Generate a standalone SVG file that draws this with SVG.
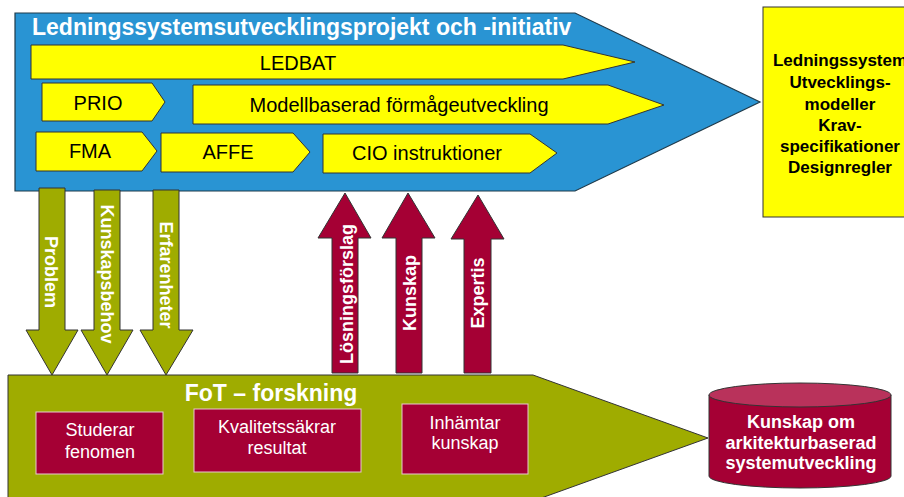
<svg xmlns="http://www.w3.org/2000/svg" width="904" height="497" viewBox="0 0 904 497">
<style>
.blue{fill:#2994d3;stroke:#1f3a4a;stroke-width:1.2}
.yel{fill:#ffff00;stroke:#333;stroke-width:1}
.oliv{fill:#9fac00;stroke:#333;stroke-width:1}
.red{fill:#a50034;stroke:#333;stroke-width:1}
.box{fill:#a50034;stroke:#e8c8d0;stroke-width:1}
.t{font-family:"Liberation Sans",Arial,sans-serif;text-anchor:middle}
.bk{fill:#000;font-size:20px}
.wb{fill:#fff;font-weight:bold}
.w{fill:#fff;font-size:18px}
.rb{fill:#000;font-weight:bold;font-size:17px}
.lab{font-size:18px}
</style>
<rect width="904" height="497" fill="#fff"/>
<g id="ledning">
<path class="blue" d="M15,13 L575,13 L760,102 L575,191 L15,191 Z"/>
<text class="t wb" x="32" y="35" font-size="23" style="text-anchor:start">Ledningssystemsutvecklingsprojekt och -initiativ</text>
</g>
<g id="ledbat">
<path class="yel" d="M31,45 L563,45 L635,62 L563,79 L31,79 Z"/>
<text class="t bk" x="298" y="70">LEDBAT</text>
</g>
<g id="prio">
<path class="yel" d="M42,83 L152,83 L165,102 L152,121 L42,121 Z"/>
<text class="t bk" x="98" y="110">PRIO</text>
</g>
<g id="modell">
<path class="yel" d="M193,85 L608,85 L664,105 L608,124 L193,124 Z"/>
<text class="t bk" x="399" y="112">Modellbaserad förmågeutveckling</text>
</g>
<g id="fma">
<path class="yel" d="M36,132 L142,132 L157,151 L142,171 L36,171 Z"/>
<text class="t bk" x="90" y="158">FMA</text>
</g>
<g id="affe">
<path class="yel" d="M161,133 L293,133 L310,152 L293,172 L161,172 Z"/>
<text class="t bk" x="228" y="159">AFFE</text>
</g>
<g id="cio">
<path class="yel" d="M323,134 L530,134 L557,153 L530,173 L323,173 Z"/>
<text class="t bk" x="427" y="160">CIO instruktioner</text>
</g>
<g id="resultat">
<rect class="yel" x="763" y="7" width="160" height="210"/>
<text class="t rb"><tspan x="840" y="66">Ledningssystem</tspan><tspan x="840" y="88">Utvecklings-</tspan><tspan x="840" y="110">modeller</tspan><tspan x="840" y="131">Krav-</tspan><tspan x="840" y="152">specifikationer</tspan><tspan x="840" y="173">Designregler</tspan></text>
</g>
<g id="fot">
<path class="oliv" d="M8,375 L533,375 L708,438 L533,501 L8,501 Z"/>
<text class="t wb" x="271" y="401" font-size="23">FoT – forskning</text>
</g>
<g id="studerar">
<rect class="box" x="36" y="412" width="127" height="62"/>
<text class="t w"><tspan x="100" y="436">Studerar</tspan><tspan x="100" y="458">fenomen</tspan></text>
</g>
<g id="kvalitet">
<rect class="box" x="194" y="409" width="167" height="63"/>
<text class="t w"><tspan x="277" y="433">Kvalitetssäkrar</tspan><tspan x="277" y="454">resultat</tspan></text>
</g>
<g id="inhamtar">
<rect class="box" x="402" y="404" width="126" height="70"/>
<text class="t w"><tspan x="465" y="429">Inhämtar</tspan><tspan x="465" y="449">kunskap</tspan></text>
</g>
<g id="kunskapsdb">
<path class="red" d="M709,395 L709,476 A91,12 0 0 0 891,476 L891,395"/>
<ellipse cx="800" cy="395" rx="91" ry="12" fill="#b9325b" stroke="#333" stroke-width="1"/>
<text class="t wb" font-size="18"><tspan x="801" y="428">Kunskap om</tspan><tspan x="801" y="449">arkitekturbaserad</tspan><tspan x="801" y="469">systemutveckling</tspan></text>
</g>
<g id="connectors">
<g id="down-arrows">
<path class="oliv" d="M39,188 L65,188 L65,330 L78,330 L52,375 L26,330 L39,330 Z"/>
<path class="oliv" d="M94,190 L120,190 L120,330 L133,330 L107,375 L81,330 L94,330 Z"/>
<path class="oliv" d="M153,190 L179,190 L179,330 L193,330 L166,375 L140,330 L153,330 Z"/>
<text class="t wb lab" transform="translate(45,272) rotate(90)">Problem</text>
<text class="t wb lab" transform="translate(101,274) rotate(90)">Kunskapsbehov</text>
<text class="t wb lab" transform="translate(160,275) rotate(90)">Erfarenheter</text>
</g>
<g id="up-arrows">
<path class="red" d="M332,373 L358,373 L358,238 L371,238 L345,193 L318,238 L332,238 Z"/>
<path class="red" d="M396,373 L422,373 L422,238 L435,238 L408,193 L382,238 L396,238 Z"/>
<path class="red" d="M464,373 L491,373 L491,239 L504,239 L478,195 L451,239 L464,239 Z"/>
<text class="t wb lab" transform="translate(353,294) rotate(-90)">Lösningsförslag</text>
<text class="t wb lab" transform="translate(416,293) rotate(-90)">Kunskap</text>
<text class="t wb lab" transform="translate(484,293) rotate(-90)">Expertis</text>
</g>
</g>
</svg>
